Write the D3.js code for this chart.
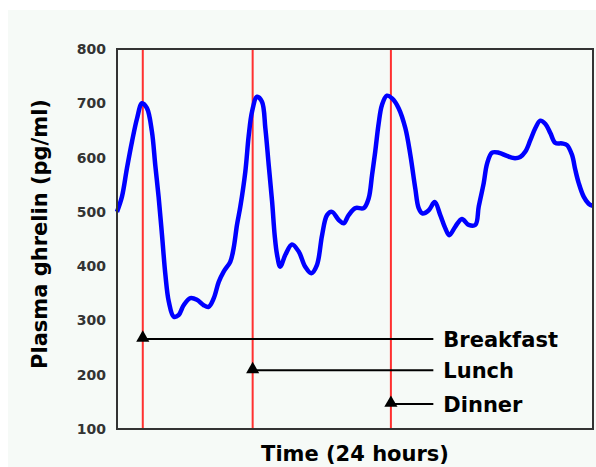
<!DOCTYPE html>
<html>
<head>
<meta charset="utf-8">
<script src="https://cdn.jsdelivr.net/npm/d3@7"></script>
<style>
  body { margin: 0; background: #fff; }
  svg { display: block; }
</style>
</head>
<body>
<svg id="chart"></svg>
<script>
// ghrelin over 24 hours, meal times marked with red lines

const hours = [0, 0.25, 0.5, 0.76, 1.01, 1.26, 1.51, 1.76, 1.93, 2.1, 2.27, 2.44, 2.61, 2.86, 3.11, 3.36, 3.7, 4.03, 4.37, 4.62, 4.88, 5.13, 5.38, 5.71, 5.88, 6.05,
  6.22, 6.47, 6.64, 6.81, 7.06, 7.31, 7.48, 7.65, 7.82, 7.95, 8.07, 8.23, 8.49, 8.82, 9.16, 9.49, 9.8, 10.08, 10.34, 10.59, 10.84, 11.18, 11.43, 11.68, 12.02,
  12.44, 12.69, 12.86, 13.02, 13.19, 13.36, 13.61, 13.87, 14.2, 14.54, 14.79, 15.04, 15.21, 15.41, 15.72, 16.02, 16.3, 16.55, 16.75, 17.06, 17.39, 17.73, 18.07,
  18.24, 18.49, 18.66, 18.91, 19.25, 19.66, 20.0, 20.33, 20.59, 20.84, 21.09, 21.34, 21.6, 21.85, 22.1, 22.44, 22.69, 22.94, 23.11, 23.28, 23.53, 23.78, 24]
const ghrelin = [500, 528, 580, 630, 672, 700, 691, 648, 586, 527, 457, 384, 335, 307, 310, 328, 341, 338, 328, 325, 341, 371, 390, 408, 433, 476,
  510, 574, 640, 685, 712, 703, 654, 586, 519, 457, 421, 399, 421, 440, 427, 399, 387, 402, 457, 494, 500, 485, 479, 494, 507,
  507, 525, 568, 611, 662, 697, 714, 709, 691, 654, 605, 543, 507, 497, 503, 518, 494, 470, 457, 473, 487, 476, 476,
  510, 553, 589, 609, 609, 603, 599, 601, 611, 632, 654, 668, 662, 645, 627, 626, 623, 605, 577, 553, 528, 515, 511]

const mealNames = ["Breakfast", "Lunch", "Dinner"]
const mealHours = [1.3, 6.84, 13.81]
const mealMarks = [266, 208, 146]

const yTicks = [100, 200, 300, 400, 500, 600, 700, 800]

const width = 596
const height = 467
const margin = { top: 49, right: 3, bottom: 38, left: 117 }
const font = "'DejaVu Sans', sans-serif"

const svg = d3.select("#chart").attr("width", width).attr("height", height)

// light panel behind everything
svg.append("rect")
  .attr("x", 8).attr("y", 10)
  .attr("width", width - 8).attr("height", height - 10)
  .attr("fill", "#f6faf7")

const x = d3.scaleLinear().domain([0, 24]).range([margin.left, width - margin.right])
const y = d3.scaleLinear().domain([100, 800]).range([height - margin.bottom, margin.top])

// y axis labels only, no tick marks
const yAxis = d3.axisLeft(y).tickValues(yTicks).tickSize(0).tickPadding(11)
const ya = svg.append("g").attr("transform", `translate(${margin.left},0)`).call(yAxis)
ya.select(".domain").remove()
ya.selectAll("text")
  .style("font-family", font)
  .style("font-size", "14px")
  .style("font-weight", "bold")
  .attr("fill", "#333")

// meal times
const meals = mealNames.map((name, i) => ({ name, h: mealHours[i], v: mealMarks[i] }))

svg.selectAll("line.meal")
  .data(meals)
  .enter()
  .append("line")
  .attr("class", "meal")
  .attr("x1", d => x(d.h)).attr("x2", d => x(d.h))
  .attr("y1", y(800)).attr("y2", y(100))
  .attr("stroke", "#ff3030")
  .attr("stroke-width", 2)

// the ghrelin curve
const pts = hours.map((h, i) => [h, ghrelin[i]])
const line = d3.line()
  .x(d => x(d[0]))
  .y(d => y(d[1]))
  .curve(d3.curveCatmullRom.alpha(0.5))

svg.append("path")
  .datum(pts)
  .attr("d", line)
  .attr("fill", "none")
  .attr("stroke", "#0000ff")
  .attr("stroke-width", 4.5)
  .attr("stroke-linejoin", "round")

// pointers to the meal labels
const labelEnd = 15.95
svg.selectAll("line.pointer")
  .data(meals)
  .enter()
  .append("line")
  .attr("class", "pointer")
  .attr("x1", d => x(d.h)).attr("x2", x(labelEnd))
  .attr("y1", d => y(d.v)).attr("y2", d => y(d.v))
  .attr("stroke", "#000")
  .attr("stroke-width", 2)

svg.selectAll("path.tri")
  .data(meals)
  .enter()
  .append("path")
  .attr("class", "tri")
  .attr("d", d3.symbol().type(d3.symbolTriangle).size(75))
  .attr("transform", d => `translate(${x(d.h)},${y(d.v) - 1})`)
  .attr("fill", "#000")

svg.selectAll("text.meal")
  .data(meals)
  .enter()
  .append("text")
  .attr("class", "meal")
  .attr("x", x(labelEnd) + 10)
  .attr("y", d => y(d.v) + 8)
  .text(d => d.name)
  .style("font-family", font)
  .style("font-size", "21px")
  .style("font-weight", "bold")
  .attr("fill", "#000")

// frame
svg.append("rect")
  .attr("x", margin.left).attr("y", margin.top)
  .attr("width", width - margin.right - margin.left)
  .attr("height", height - margin.bottom - margin.top)
  .attr("fill", "none")
  .attr("stroke", "#333")
  .attr("stroke-width", 2)

// axis titles
svg.append("text")
  .attr("x", (margin.left + width - margin.right) / 2)
  .attr("y", 461)
  .attr("text-anchor", "middle")
  .text("Time (24 hours)")
  .style("font-family", font)
  .style("font-size", "21px")
  .style("font-weight", "bold")

svg.append("text")
  .attr("transform", "translate(47,234) rotate(-90)")
  .attr("text-anchor", "middle")
  .text("Plasma ghrelin (pg/ml)")
  .style("font-family", font)
  .style("font-size", "21px")
  .style("font-weight", "bold")
</script>
</body>
</html>
